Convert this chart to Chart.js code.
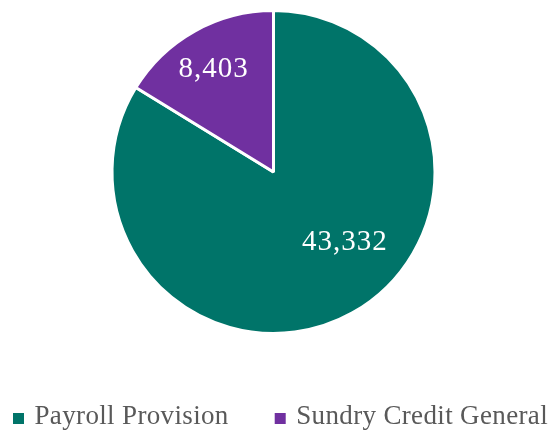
<!DOCTYPE html>
<html>
<head>
<meta charset="utf-8">
<script src="https://cdn.jsdelivr.net/npm/chart.js@4"></script>
<style>
  html, body { margin: 0; padding: 0; background: #ffffff; }
  #wrap { width: 551px; height: 435px; position: relative; }
</style>
</head>
<body>
<div id="wrap"><canvas id="c"></canvas></div>
<script>
const categories = ['Payroll Provision', 'Sundry Credit General'];
const values = [43332, 8403];
const colors = ['#007469', '#7030A0'];

const FONT = "'Liberation Serif', 'DejaVu Serif', serif";

const sliceLabels = {
  id: 'sliceLabels',
  afterDatasetsDraw(chart, args, opts) {
    const ctx = chart.ctx;
    const meta = chart.getDatasetMeta(0);
    ctx.save();
    ctx.fillStyle = '#ffffff';
    ctx.font = opts.fontSize + 'px ' + FONT;
    if ('letterSpacing' in ctx) ctx.letterSpacing = opts.spacing;
    ctx.textAlign = 'center';
    ctx.textBaseline = 'middle';
    meta.data.forEach((arc, i) => {
      const p = arc.getProps(['x', 'y', 'startAngle', 'endAngle', 'outerRadius'], true);
      const f = opts.angleFrac[i], r = opts.radiusFrac[i];
      const a = p.startAngle + (p.endAngle - p.startAngle) * f;
      const x = p.x + Math.cos(a) * p.outerRadius * r;
      const y = p.y + Math.sin(a) * p.outerRadius * r;
      ctx.fillText(values[i].toLocaleString('en-US'), x, y);
    });
    ctx.restore();
  }
};

// Legend drawn from the chart's own legend items (labels + colours)
const bottomLegend = {
  id: 'bottomLegend',
  afterDraw(chart, args, opts) {
    const ctx = chart.ctx;
    const items = chart.options.plugins.legend.labels.generateLabels(chart);
    ctx.save();
    ctx.font = opts.fontSize + 'px ' + FONT;
    if ('letterSpacing' in ctx) ctx.letterSpacing = opts.spacing;
    ctx.textBaseline = 'alphabetic';
    ctx.textAlign = 'left';
    const widths = items.map(it => opts.box + opts.boxGap + ctx.measureText(it.text).width);
    const total = widths.reduce((a, b) => a + b, 0) + opts.itemGap * (items.length - 1);
    let x = opts.centerX - total / 2;
    const base = opts.baseline;
    items.forEach((it, i) => {
      ctx.fillStyle = it.fillStyle;
      ctx.fillRect(x, base - opts.box, opts.box, opts.box);
      ctx.fillStyle = opts.color;
      ctx.fillText(it.text, x + opts.box + opts.boxGap, base);
      x += widths[i] + opts.itemGap;
    });
    ctx.restore();
  }
};

new Chart(document.getElementById('c'), {
  type: 'pie',
  data: {
    labels: categories,
    datasets: [{
      data: values,
      backgroundColor: colors,
      borderColor: '#ffffff',
      borderWidth: 3
    }]
  },
  plugins: [sliceLabels, bottomLegend],
  options: {
    responsive: true,
    maintainAspectRatio: false,
    animation: false,
    layout: { padding: { top: 9, bottom: 100, right: 4 } },
    plugins: {
      tooltip: { enabled: false },
      legend: { display: false },
      bottomLegend: {
        fontSize: 27,
        spacing: '0.35px',
        box: 11,
        boxGap: 10.5,
        itemGap: 46,
        centerX: 280.5,
        baseline: 424,
        color: '#595959'
      },
      sliceLabels: {
        fontSize: 29,
        spacing: '1px',
        angleFrac: [0.4465, 0.482],
        radiusFrac: [0.622, 0.735]
      }
    }
  }
});
</script>
</body>
</html>
